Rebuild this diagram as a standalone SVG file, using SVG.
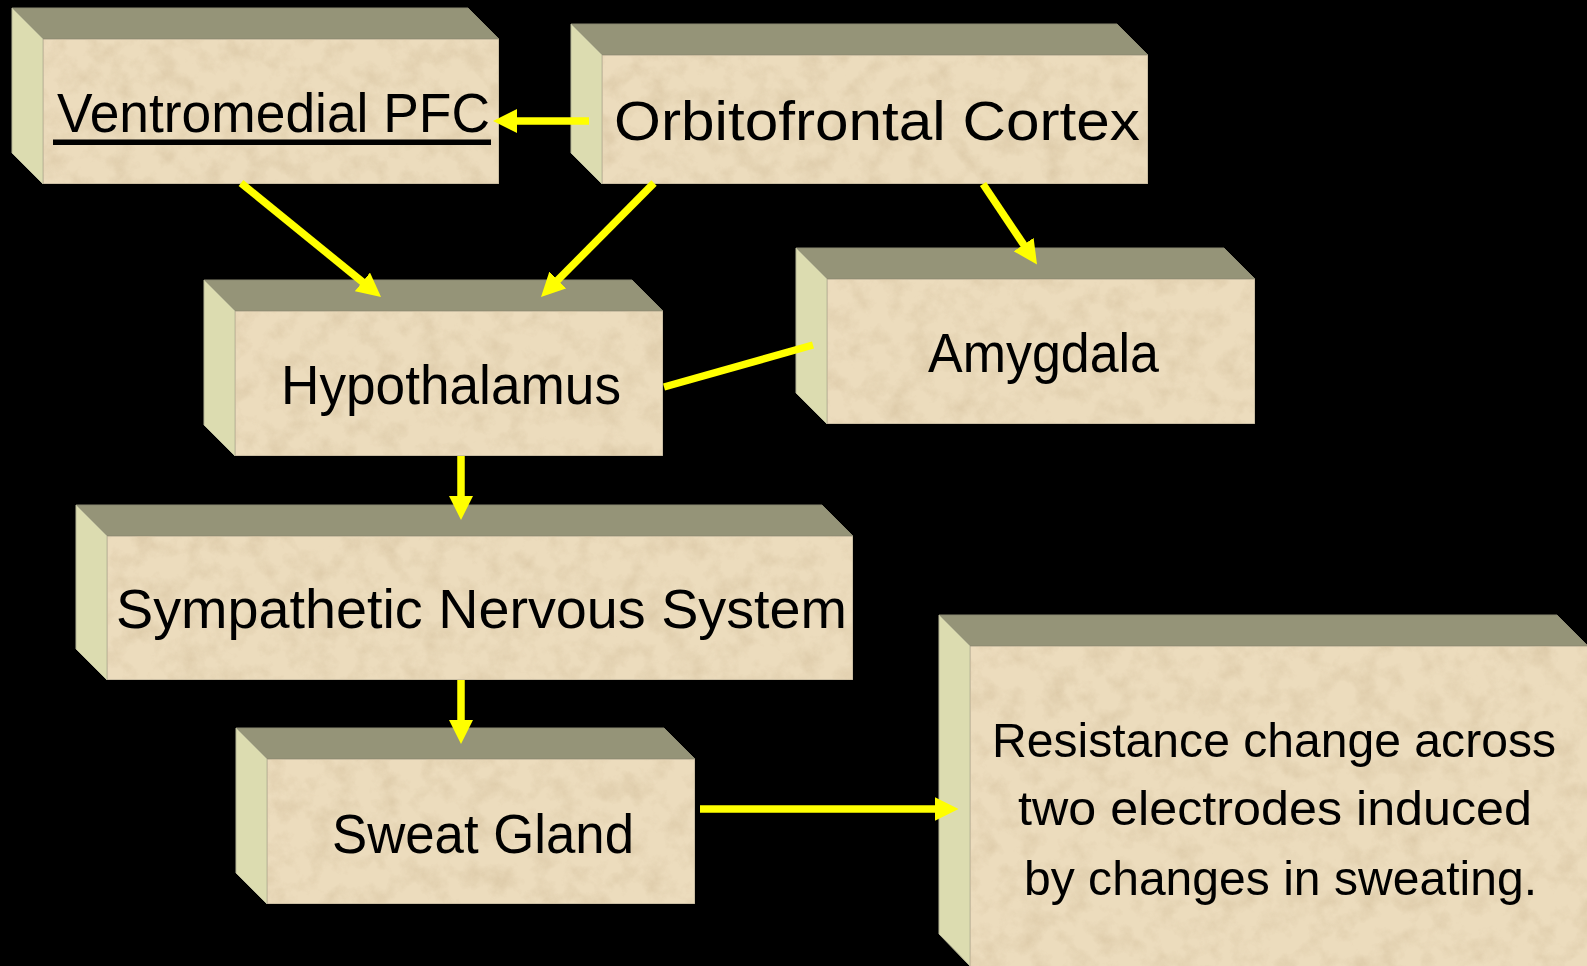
<svg xmlns="http://www.w3.org/2000/svg" width="1587" height="966" viewBox="0 0 1587 966">
<style>
.top{fill:#959478;stroke:#8a8870;stroke-width:1}
.side{fill:#dcdcb0;stroke:#b8b898;stroke-width:1}
.front{fill:#ecdcbd;stroke:#a8a08a;stroke-width:1}
.lbl{font-family:'Comic Sans MS','Liberation Sans',sans-serif;font-size:55px;fill:#000}
.lbl2{font-family:'Comic Sans MS','Liberation Sans',sans-serif;font-size:49px;fill:#000}
.ul{stroke:#000;stroke-width:5.5}
.conn{stroke:#ffff00;stroke-width:7.5;fill:none}
</style>
<defs>
<filter id="tex" x="0%" y="0%" width="100%" height="100%" color-interpolation-filters="sRGB">
<feTurbulence type="fractalNoise" baseFrequency="0.045" numOctaves="5" seed="7" result="t"/>
<feColorMatrix in="t" type="matrix" values="0 0 0 0 0.82  0 0 0 0 0.74  0 0 0 0 0.60  1.1 0 0 0 -0.48" result="c"/>
<feComposite in="c" in2="SourceGraphic" operator="in" result="m"/>
<feMerge><feMergeNode in="SourceGraphic"/><feMergeNode in="m"/></feMerge>
</filter>
<marker id="ah" markerUnits="userSpaceOnUse" viewBox="0 0 24 24" markerWidth="24" markerHeight="24" refX="1" refY="12" orient="auto">
<path d="M0,0 L24,12 L0,24 Z" fill="#ffff00"/>
</marker>
</defs>
<rect x="0" y="0" width="1587" height="966" fill="#000"/>

<g id="node-vmpfc">
<polygon class="top" points="12,8 468,8 499,39 43,39"/>
<polygon class="side" points="12,8 43,39 43,184 12,153"/>
<rect class="front" x="43" y="39" width="456" height="145" filter="url(#tex)"/>
<text class="lbl" x="57" y="132" textLength="433" lengthAdjust="spacingAndGlyphs">Ventromedial PFC</text>
<line class="ul" x1="53" y1="142.3" x2="491" y2="142.3"/>
</g>

<g id="node-ofc">
<polygon class="top" points="571,24 1117,24 1148,55 602,55"/>
<polygon class="side" points="571,24 602,55 602,184 571,153"/>
<rect class="front" x="602" y="55" width="546" height="129" filter="url(#tex)"/>
<text class="lbl" x="614" y="140" textLength="526" lengthAdjust="spacingAndGlyphs">Orbitofrontal Cortex</text>
</g>

<g id="node-hypothalamus">
<polygon class="top" points="204,280 632,280 663,311 235,311"/>
<polygon class="side" points="204,280 235,311 235,456 204,425"/>
<rect class="front" x="235" y="311" width="428" height="145" filter="url(#tex)"/>
<text class="lbl" x="281" y="404" textLength="340" lengthAdjust="spacingAndGlyphs">Hypothalamus</text>
</g>

<g id="node-amygdala">
<polygon class="top" points="796,248 1224,248 1255,279 827,279"/>
<polygon class="side" points="796,248 827,279 827,424 796,393"/>
<rect class="front" x="827" y="279" width="428" height="145" filter="url(#tex)"/>
<text class="lbl" x="928" y="372" textLength="231" lengthAdjust="spacingAndGlyphs">Amygdala</text>
</g>

<g id="node-sns">
<polygon class="top" points="76,505 822,505 853,536 107,536"/>
<polygon class="side" points="76,505 107,536 107,680 76,649"/>
<rect class="front" x="107" y="536" width="746" height="144" filter="url(#tex)"/>
<text class="lbl" x="116" y="628" textLength="731" lengthAdjust="spacingAndGlyphs">Sympathetic Nervous System</text>
</g>

<g id="node-sweat">
<polygon class="top" points="236,728 664,728 695,759 267,759"/>
<polygon class="side" points="236,728 267,759 267,904 236,873"/>
<rect class="front" x="267" y="759" width="428" height="145" filter="url(#tex)"/>
<text class="lbl" x="332" y="853" textLength="302" lengthAdjust="spacingAndGlyphs">Sweat Gland</text>
</g>

<g id="node-resistance">
<polygon class="top" points="939,615 1557,615 1588,646 970,646"/>
<polygon class="side" points="939,615 970,646 970,966 939,934"/>
<rect class="front" x="970" y="646" width="620" height="322" filter="url(#tex)"/>
<text class="lbl2" x="992" y="757" textLength="564" lengthAdjust="spacingAndGlyphs">Resistance change across</text>
<text class="lbl2" x="1018" y="825" textLength="514" lengthAdjust="spacingAndGlyphs">two electrodes induced</text>
<text class="lbl2" x="1024" y="895" textLength="513" lengthAdjust="spacingAndGlyphs">by changes in sweating.</text>
</g>

<g id="connectors">
<line class="conn" x1="589" y1="121" x2="516" y2="121" marker-end="url(#ah)"/>
<line class="conn" x1="241" y1="183" x2="363.2" y2="282.5" marker-end="url(#ah)"/>
<line class="conn" x1="654" y1="183" x2="557.2" y2="280.7" marker-end="url(#ah)"/>
<line class="conn" x1="983" y1="184" x2="1024.2" y2="245.4" marker-end="url(#ah)"/>
<line class="conn" x1="664" y1="387" x2="813" y2="345"/>
<line class="conn" x1="461" y1="456" x2="461" y2="497" marker-end="url(#ah)"/>
<line class="conn" x1="461" y1="680" x2="461" y2="721" marker-end="url(#ah)"/>
<line class="conn" x1="700" y1="809" x2="935.6" y2="809" marker-end="url(#ah)"/>
</g>
</svg>
